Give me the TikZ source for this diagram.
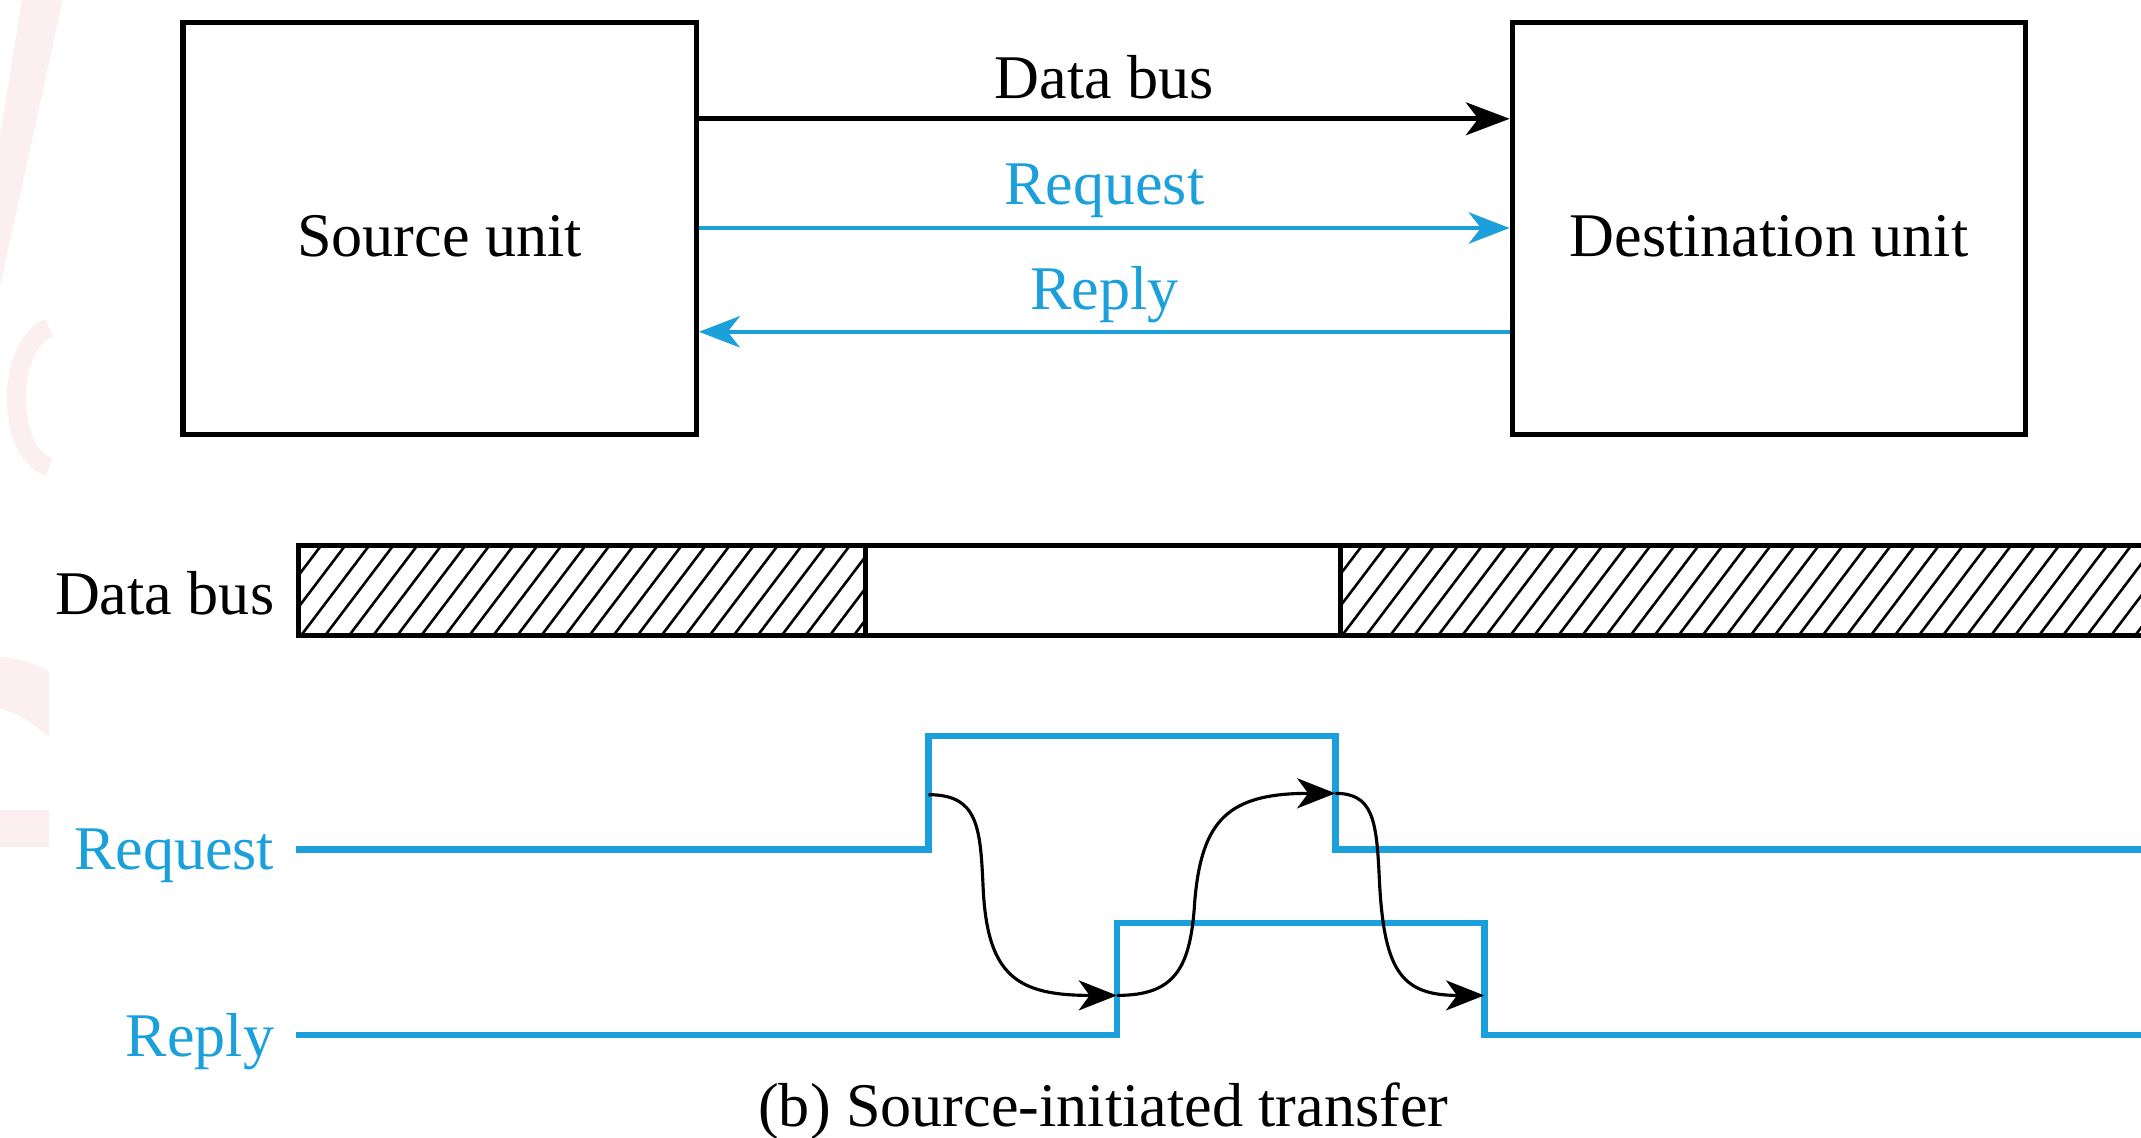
\documentclass[tikz,border=0pt]{standalone}
\usepackage{fontspec}
\setmainfont{Liberation Serif}
\usetikzlibrary{arrows.meta}
\definecolor{sigblue}{RGB}{28,160,220}
\definecolor{wmpink}{RGB}{252,239,242}

\begin{document}
\begin{tikzpicture}[x=1pt,y=-1pt,
  every node/.style={font=\fontsize{45.5}{54}\selectfont, inner sep=0pt},
  unit/.style={draw, line width=3.8pt, minimum width=376pt, minimum height=302pt},
  busarrow/.style={line width=3.8pt, -{Stealth[length=32pt,width=24pt,inset=9pt]}},
  hsarrow/.style={sigblue, line width=2.8pt, -{Stealth[length=30pt,width=23pt,inset=9pt]}},
  wave/.style={sigblue, line width=4.8pt, line join=miter},
  cause/.style={line width=2.3pt, -{Stealth[length=28pt,width=22pt,inset=8pt]}},
  lbl/.style={anchor=base},
  bluelbl/.style={anchor=base, text=sigblue},
  sidelbl/.style={anchor=base east},
  hatchline/.style={line width=1.9pt},
  barline/.style={line width=3.8pt},
]
\useasboundingbox (0,0) rectangle (1568,833);

% faint mark along the left edge
\fill[wmpink] (16,0) -- (46,0) -- (0,210) -- (0,100) -- cycle;
\draw[wmpink, line width=14pt] (36,240) .. controls (4,252) and (4,332) .. (36,342);
\fill[wmpink] (0,481) .. controls (15,482) and (28,486) .. (36,492) -- (36,540) .. controls (25,530) and (12,522) .. (0,519) -- cycle;
\fill[wmpink] (0,593) rectangle (36,620);

% the two units and the lines between them
\node[unit] (src) at (322,167.5) {};
\node[unit] (dst) at (1295.5,167.5) {};
\node[lbl] (srcT) at ([yshift=-20.5pt]src.center) {Source unit};
\node[lbl] (dstT) at ([yshift=-20.5pt]dst.center) {Destination unit};

\draw[busarrow] (src.east |- 0,87) -- node[lbl, yshift=15pt] (busT) {Data bus} (dst.west |- 0,87);
\draw[hsarrow] (src.east |- 0,167) -- node[bluelbl, yshift=17pt] (reqT) {Request} (dst.west |- 0,167);
\draw[hsarrow] (dst.west |- 0,243) -- node[bluelbl, yshift=16pt] (repT) {Reply} (src.east |- 0,243);

% timing diagram: data bus
\begin{scope}
  \clip (218.5,399.5) rectangle (634,465.5);
  \foreach \x in {150,167.6,...,650} \draw[hatchline] (\x,465.5) -- (\x+50,399.5);
\end{scope}
\begin{scope}
  \clip (982,399.5) rectangle (1580,465.5);
  \foreach \x in {930,947.6,...,1600} \draw[hatchline] (\x,465.5) -- (\x+50,399.5);
\end{scope}
\draw[barline] (1580,399.5) -- (218.5,399.5) -- (218.5,465.5) -- (1580,465.5);
\draw[barline] (634,399.5) -- (634,465.5);
\draw[barline] (982,399.5) -- (982,465.5);

% signal names
\node[sidelbl] (dbL) at (201,450) {Data bus};
\node[sidelbl, text=sigblue] (rqL) at (201,637) {Request};
\node[sidelbl, text=sigblue] (rpL) at (201,774) {Reply};

% request and reply waveforms
\coordinate (rqA) at (217,622);
\coordinate (rqB) at (680,622);
\coordinate (rqC) at (680,539);
\coordinate (rqD) at (978,539);
\coordinate (rqE) at (978,622);
\coordinate (rqF) at (1580,622);
\coordinate (rpA) at (217,758);
\coordinate (rpB) at (818,758);
\coordinate (rpC) at (818,676);
\coordinate (rpD) at (1087,676);
\coordinate (rpE) at (1087,758);
\coordinate (rpF) at (1580,758);
\draw[wave] (rqA) -- (rqB) -- (rqC) -- (rqD) -- (rqE) -- (rqF);
\draw[wave] (rpA) -- (rpB) -- (rpC) -- (rpD) -- (rpE) -- (rpF);

% handshake sequence
\coordinate (c1) at (680,582);
\coordinate (c2) at (818,729);
\coordinate (c3) at (978,581);
\coordinate (c4) at (1087,729);
\draw[cause] (c1) .. controls (716,582) and (718,605) .. (720,650)
                  .. controls (723,715) and (745,729) .. (c2);
\draw[cause] (c2) .. controls (860,729) and (872,710) .. (875,660)
                  .. controls (880,600) and (900,581) .. (c3);
\draw[cause] (c3) .. controls (1005,581) and (1008,600) .. (1010,640)
                  .. controls (1013,710) and (1025,729) .. (c4);

\node[lbl] (cap) at (808,825) {(b) Source-initiated transfer};
\end{tikzpicture}
\end{document}
